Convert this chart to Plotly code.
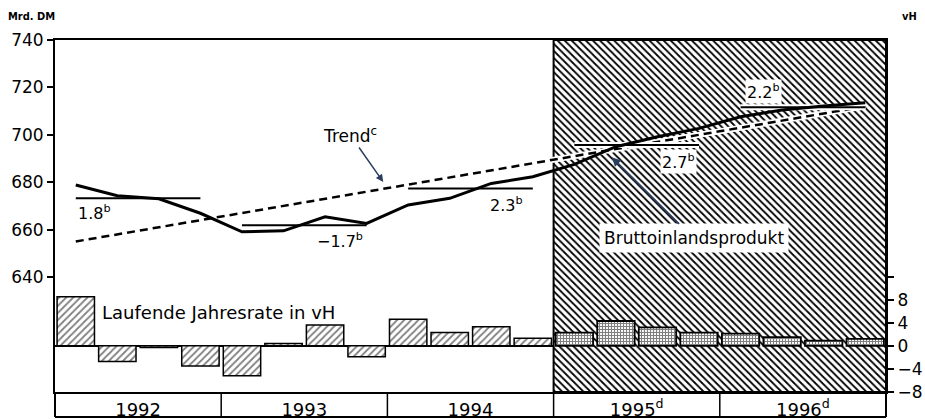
import plotly.graph_objects as go

# ---------------- data ----------------
years = ["1992", "1993", "1994", "1995<sup>d</sup>", "1996<sup>d</sup>"]
quarters_per_year = 4
forecast_from_year = 3  # index of first forecast year (1995)

gdp = [678.8, 674.3, 673.0, 666.9,
       659.1, 659.5, 665.4, 662.6,
       670.4, 673.2, 679.5, 682.3,
       687.5, 695.0, 699.2, 702.7,
       707.6, 710.5, 712.2, 713.5]

rate = [8.5, -2.7, -0.3, -3.5,
        -5.2, 0.4, 3.6, -1.9,
        4.6, 2.3, 3.3, 1.3,
        2.3, 4.3, 3.2, 2.3,
        2.1, 1.5, 0.9, 1.2]

annual_level = [673.2, 661.9, 677.4, 695.7, 711.6]
annual_growth = ["1.8", "\u22121.7", "2.3", "2.7", "2.2"]
trend_ends = [655.0, 712.0]

left_ticks = [640, 660, 680, 700, 720, 740]
right_ticks = [-8, -4, 0, 4, 8, 12]
right_ticktext = ["\u22128", "\u22124", "0", "4", "8", ""]

# ---------------- derived positions ----------------
nq = len(gdp)
xq = [i + 0.5 for i in range(nq)]
fc_start = forecast_from_year * quarters_per_year
ymin_left, ymax_left = 591.5, 740.0
y2min, y2max = -8.0, 53.0

FONT = "DejaVu Sans"
PLOT_W, PLOT_H = 831.0, 352.0
fig = go.Figure()

# hatched forecast area
fig.add_trace(go.Scatter(
    x=[fc_start, nq, nq, fc_start, fc_start],
    y=[ymin_left, ymin_left, ymax_left, ymax_left, ymin_left],
    mode="lines", fill="toself",
    line=dict(color="black", width=2),
    fillcolor="white",
    fillpattern=dict(shape="\\", size=5, solidity=0.36,
                     fgcolor="black", bgcolor="white", fillmode="replace"),
    hoverinfo="skip", showlegend=False, yaxis="y"))

# trend line (white underlay + black dashes)
fig.add_trace(go.Scatter(x=[xq[0], xq[-1]], y=trend_ends, mode="lines",
                         line=dict(color="white", width=6),
                         showlegend=False, hoverinfo="skip", yaxis="y"))
fig.add_trace(go.Scatter(x=[xq[0], xq[-1]], y=trend_ends, mode="lines",
                         line=dict(color="black", width=2.5, dash="8px,5px"),
                         showlegend=False, yaxis="y"))

# annual level lines
for k, lev in enumerate(annual_level):
    x0 = k * quarters_per_year + 0.5
    x1 = k * quarters_per_year + quarters_per_year - 0.5
    if k >= forecast_from_year:
        fig.add_trace(go.Scatter(x=[x0, x1], y=[lev, lev], mode="lines",
                                 line=dict(color="white", width=6),
                                 showlegend=False, hoverinfo="skip", yaxis="y"))
    fig.add_trace(go.Scatter(x=[x0, x1], y=[lev, lev], mode="lines",
                             line=dict(color="black", width=2),
                             showlegend=False, yaxis="y"))

# GDP line
fig.add_trace(go.Scatter(x=xq, y=gdp, mode="lines",
                         line=dict(color="black", width=3),
                         showlegend=False, yaxis="y"))

# bars: historical and forecast
hist_idx = list(range(fc_start))
fc_idx = list(range(fc_start, nq))
fig.add_trace(go.Bar(
    x=[xq[i] for i in hist_idx], y=[rate[i] for i in hist_idx], width=0.9,
    marker=dict(color="white", line=dict(color="black", width=1.5),
                pattern=dict(shape="/", size=5, solidity=0.35,
                             fgcolor="black", bgcolor="white")),
    showlegend=False, yaxis="y2"))
fig.add_trace(go.Bar(
    x=[xq[i] for i in fc_idx], y=[rate[i] for i in fc_idx], width=0.9,
    marker=dict(color="white", line=dict(color="black", width=1.8),
                pattern=dict(shape="+", size=3, solidity=0.6,
                             fgcolor="black", bgcolor="white")),
    showlegend=False, yaxis="y2"))

# ---------------- layout ----------------
band = 25 / PLOT_H
shapes = []
shapes.append(dict(type="line", xref="paper", yref="paper", x0=0, x1=1,
                   y0=-band, y1=-band, line=dict(color="black", width=2)))
shapes.append(dict(type="line", xref="paper", yref="paper", x0=0, x1=0,
                   y0=-band, y1=0, line=dict(color="black", width=2)))
shapes.append(dict(type="line", xref="paper", yref="paper", x0=1, x1=1,
                   y0=-band, y1=0, line=dict(color="black", width=2)))
for k in range(1, len(years)):
    xb = k * quarters_per_year
    shapes.append(dict(type="line", xref="x", yref="paper", x0=xb, x1=xb,
                       y0=-band, y1=0, line=dict(color="black", width=1.5)))

annotations = []
lab_font = dict(family=FONT, size=16, color="black")
annotations.append(dict(x=0.5, y=annual_level[0], xref="x", yref="y",
                        text=annual_growth[0] + "<sup>b</sup>", showarrow=False,
                        xanchor="left", yanchor="top", yshift=-2, font=lab_font))
annotations.append(dict(x=7.5, y=annual_level[1], xref="x", yref="y",
                        text=annual_growth[1] + "<sup>b</sup>", showarrow=False,
                        xanchor="right", yanchor="top", yshift=-3, xshift=-2, font=lab_font))
annotations.append(dict(x=11.5, y=annual_level[2], xref="x", yref="y",
                        text=annual_growth[2] + "<sup>b</sup>", showarrow=False,
                        xanchor="right", yanchor="top", yshift=-4, xshift=-8, font=lab_font))
annotations.append(dict(x=15.5, y=annual_level[3], xref="x", yref="y",
                        text=annual_growth[3] + "<sup>b</sup>", showarrow=False,
                        xanchor="right", yanchor="top", yshift=-4, xshift=-2,
                        bgcolor="white", borderpad=1, font=lab_font))
annotations.append(dict(x=16.5, y=annual_level[4], xref="x", yref="y",
                        text=annual_growth[4] + "<sup>b</sup>", showarrow=False,
                        xanchor="left", yanchor="bottom", yshift=3, xshift=4,
                        bgcolor="white", borderpad=1, font=lab_font))
annotations.append(dict(x=7.9, y=680.1, xref="x", yref="y",
                        text="Trend<sup>c</sup>", showarrow=True,
                        ax=-33, ay=-47, arrowhead=2, arrowsize=1, arrowwidth=1.5,
                        font=dict(family=FONT, size=17, color="black")))
annotations.append(dict(x=13.4, y=690.5, xref="x", yref="y",
                        text="Bruttoinlandsprodukt", showarrow=True,
                        ax=82, ay=81, arrowhead=2, arrowsize=1, arrowwidth=1.8,
                        bgcolor="white", borderpad=4,
                        font=dict(family=FONT, size=17, color="black")))
annotations.append(dict(x=1.08, y=5.7, xref="x", yref="y2",
                        text="Laufende Jahresrate in vH", showarrow=False,
                        xanchor="left", yanchor="middle",
                        font=dict(family=FONT, size=18, color="black")))
annotations.append(dict(x=-24 / PLOT_W, y=1 + 23 / PLOT_H, xref="paper", yref="paper",
                        text="<b>Mrd. DM</b>", showarrow=False,
                        xanchor="center", yanchor="middle",
                        font=dict(family="DejaVu Sans Condensed", size=11)))
annotations.append(dict(x=1 + 23 / PLOT_W, y=1 + 23 / PLOT_H, xref="paper", yref="paper",
                        text="<b>vH</b>", showarrow=False,
                        xanchor="center", yanchor="middle",
                        font=dict(family="DejaVu Sans Condensed", size=11)))

fig.update_layout(
    width=925, height=419,
    margin=dict(l=55, r=39, t=40, b=27, pad=0, autoexpand=False),
    paper_bgcolor="white", plot_bgcolor="white",
    barmode="overlay", showlegend=False,
    font=dict(family=FONT, size=17, color="black"),
    xaxis=dict(range=[0, nq], tickvals=[k * quarters_per_year + 2 for k in range(len(years))],
               ticktext=years, ticks="", showgrid=False, zeroline=False,
               showline=True, linecolor="black", linewidth=2, mirror=True,
               automargin=False, tickfont=dict(family=FONT, size=18)),
    yaxis=dict(range=[ymin_left, ymax_left], tickvals=left_ticks,
               ticks="outside", ticklen=6, tickwidth=1.5, tickcolor="black",
               showgrid=False, zeroline=False, showline=True, automargin=False,
               linecolor="black", linewidth=2, tickfont=dict(family=FONT, size=17)),
    yaxis2=dict(range=[y2min, y2max], overlaying="y", side="right",
                tickvals=right_ticks, ticktext=right_ticktext,
                ticks="outside", ticklen=6, tickwidth=1.5, tickcolor="black",
                showgrid=False, zeroline=True, zerolinecolor="black", zerolinewidth=2,
                showline=True, linecolor="black", linewidth=2, automargin=False,
                tickfont=dict(family=FONT, size=17)),
    shapes=shapes, annotations=annotations,
)

# remove the default page margin so the 925x419 figure fills the window exactly
fig.write_html(
    "out.html",
    config={"displayModeBar": False},
    post_script="document.body.style.margin='0';document.body.style.overflow='hidden';",
)
